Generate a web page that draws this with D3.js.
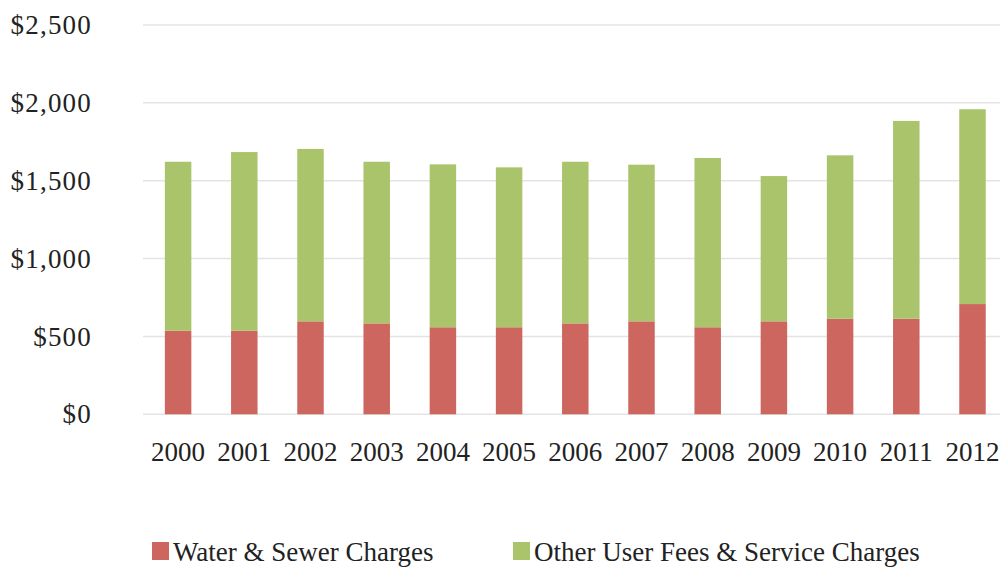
<!DOCTYPE html>
<html>
<head>
<meta charset="utf-8">
<script src="https://cdn.jsdelivr.net/npm/d3@7"></script>
<style>
  body { margin: 0; background: #fff; }
  svg { display: block; font-family: "Liberation Serif", "DejaVu Serif", serif; }
  .axis text { fill: #222; }
</style>
</head>
<body>
<svg width="1000" height="569"></svg>
<script>
// data
var years = ['2000', '2001', '2002', '2003', '2004', '2005', '2006', '2007', '2008', '2009', '2010', '2011', '2012'];
var waterSewer = [537, 537, 597, 584, 559, 559, 584, 597, 559, 597, 614, 614, 708];
var otherFees = [1085, 1147, 1107, 1038, 1046, 1027, 1038, 1006, 1087, 933, 1049, 1270, 1251];
var yTicks = [0, 500, 1000, 1500, 2000, 2500];
var seriesNames = ['Water & Sewer Charges', 'Other User Fees & Service Charges'];
var colors = ['#cd665f', '#a9c46b'];

var svg = d3.select('svg');

// x band runs past the right edge, the last bar is cut like in the picture
var x = d3.scaleBand().domain(years).range([145, 1005.6]).paddingInner(0.6).paddingOuter(0.3),
    y = d3.scaleLinear().domain([0, 2500]).range([414.3, 25]);

// gridlines
svg.append('g')
  .selectAll('line')
  .data(yTicks)
  .enter().append('line')
    .attr('x1', 143).attr('x2', 1000)
    .attr('y1', function(d) { return y(d); })
    .attr('y2', function(d) { return y(d); })
    .attr('stroke', '#e4e4e4')
    .attr('stroke-width', 1.5);

// y axis labels
var yAxis = svg.append('g')
    .attr('class', 'axis axis--y')
    .attr('transform', 'translate(92,0)')
    .call(d3.axisLeft(y).tickValues(yTicks).tickSize(0).tickPadding(0)
      .tickFormat(function(d) { return '$' + d3.format(',')(d); }))
    .attr('font-family', null)
    .attr('font-size', 27);
yAxis.select('.domain').remove();
yAxis.selectAll('text')
    .attr('letter-spacing', 1.2);

// x axis labels
var xAxis = svg.append('g')
    .attr('class', 'axis axis--x')
    .attr('transform', 'translate(0,' + 442 + ')')
    .call(d3.axisBottom(x).tickSize(0).tickPadding(0))
    .attr('font-family', null)
    .attr('font-size', 27);
xAxis.select('.domain').remove();

// stacked bars
var rows = years.map(function(yr, i) {
  return { year: yr, water: waterSewer[i], other: otherFees[i] };
});
var stack = d3.stack().keys(['water', 'other'])(rows);

svg.append('g')
  .selectAll('g')
  .data(stack)
  .enter().append('g')
    .attr('fill', function(d, i) { return colors[i]; })
  .selectAll('rect')
  .data(function(d) { return d; })
  .enter().append('rect')
    .attr('x', function(d) { return x(d.data.year); })
    .attr('y', function(d) { return y(d[1]); })
    .attr('width', x.bandwidth())
    .attr('height', function(d) { return y(d[0]) - y(d[1]); });

// legend
var legendX = [152, 513];
var legend = svg.append('g')
  .selectAll('g')
  .data(seriesNames)
  .enter().append('g')
    .attr('transform', function(d, i) { return 'translate(' + legendX[i] + ',542)'; });

legend.append('rect')
    .attr('width', 17).attr('height', 18)
    .attr('fill', function(d, i) { return colors[i]; });

legend.append('text')
    .attr('x', 21)
    .attr('y', 19)
    .attr('font-size', 27)
    .attr('fill', '#222')
    .text(function(d) { return d; });
</script>
</body>
</html>
